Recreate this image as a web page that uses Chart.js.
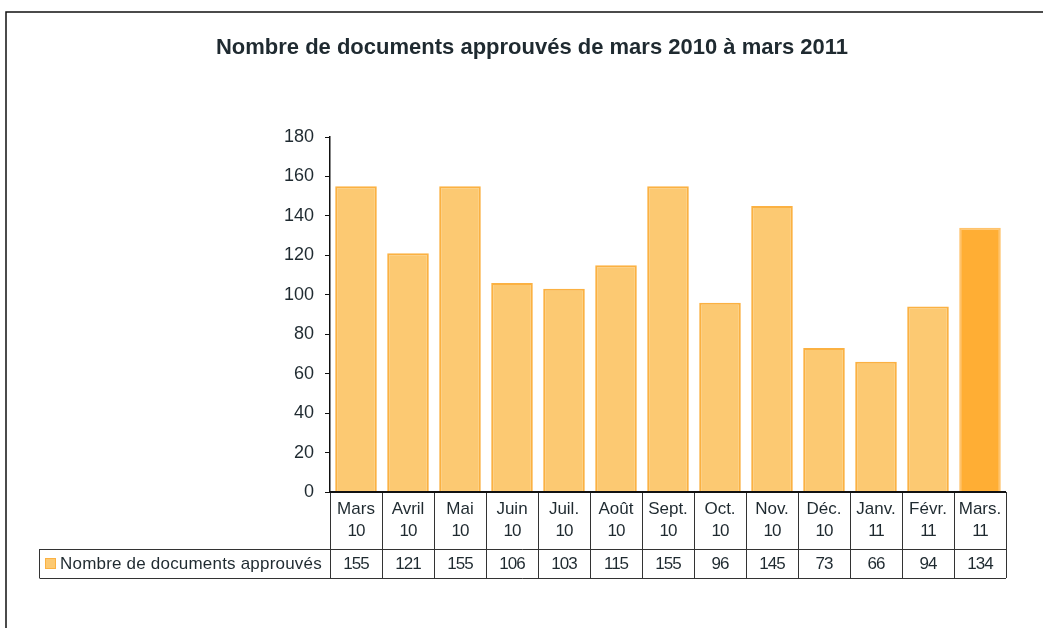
<!DOCTYPE html>
<html>
<head>
<meta charset="utf-8">
<script src="https://cdn.jsdelivr.net/npm/chart.js@4"></script>
<style>
  body { margin: 0; background: #fff; }
  canvas { display: block; }
</style>
</head>
<body>
<canvas id="docsChart" width="1043" height="628"></canvas>
<script>
// donnees
const titre = 'Nombre de documents approuvés de mars 2010 à mars 2011';
const serieNom = 'Nombre de documents approuvés';
const mois = ['Mars', 'Avril', 'Mai', 'Juin', 'Juil.', 'Août', 'Sept.', 'Oct.', 'Nov.', 'Déc.', 'Janv.', 'Févr.', 'Mars.'];
const annees = ['10', '10', '10', '10', '10', '10', '10', '10', '10', '10', '11', '11', '11'];
const valeurs = [155, 121, 155, 106, 103, 115, 155, 96, 145, 73, 66, 94, 134];
const yTicks = [0, 20, 40, 60, 80, 100, 120, 140, 160, 180];

const FONT = '"Liberation Sans", Arial, sans-serif';
const INK = '#1f2a30';

const fillColors = valeurs.map((v, i) => i === valeurs.length - 1 ? '#FFAE34' : '#FCC972');
const borderColors = valeurs.map((v, i) => i === valeurs.length - 1 ? '#FFC36C' : '#FBB142');

// cadre, titre et tableau de donnees sous l'axe
const tablePlugin = {
  id: 'dataTable',
  afterDraw(chart) {
    const ctx = chart.ctx;
    const area = chart.chartArea;
    const xs = chart.scales.x;
    const n = mois.length;
    const colW = (area.right - area.left) / n;
    const top = area.bottom;
    const mid = top + 57;
    const bot = mid + 29;
    const legLeft = 39;

    ctx.save();
    // cadre exterieur
    ctx.strokeStyle = '#111';
    ctx.lineWidth = 1.5;
    ctx.strokeRect(6, 12, 1200, 800);

    // titre
    ctx.fillStyle = INK;
    ctx.font = 'bold 22px ' + FONT;
    ctx.textAlign = 'center';
    ctx.textBaseline = 'middle';
    ctx.fillText(titre, 532, 48);

    // lignes du tableau
    ctx.strokeStyle = '#333';
    ctx.lineWidth = 1;
    ctx.beginPath();
    for (let i = 0; i <= n; i++) {
      const x = Math.round(area.left + i * colW) + 0.5;
      ctx.moveTo(x, top);
      ctx.lineTo(x, bot);
    }
    ctx.moveTo(legLeft + 0.5, mid + 0.5);
    ctx.lineTo(area.right, mid + 0.5);
    ctx.moveTo(legLeft + 0.5, bot + 0.5);
    ctx.lineTo(area.right, bot + 0.5);
    ctx.moveTo(legLeft + 0.5, mid);
    ctx.lineTo(legLeft + 0.5, bot);
    ctx.stroke();

    ctx.strokeStyle = '#111';
    ctx.lineWidth = 2;
    ctx.beginPath();
    ctx.moveTo(area.left, top);
    ctx.lineTo(area.right, top);
    ctx.stroke();

    // textes
    ctx.fillStyle = INK;
    ctx.textAlign = 'center';
    for (let i = 0; i < n; i++) {
      const cx = xs.getPixelForValue(i);
      ctx.font = '17px ' + FONT;
      ctx.letterSpacing = '0px';
      ctx.fillText(mois[i], cx, top + 17);
      ctx.letterSpacing = '-1px';
      ctx.fillText(annees[i], cx, top + 39);
      ctx.fillText(String(valeurs[i]), cx, mid + 15);
    }

    // legende
    ctx.fillStyle = '#FCC972';
    ctx.strokeStyle = '#FBB142';
    ctx.lineWidth = 1;
    ctx.fillRect(45.5, mid + 9.5, 10, 10);
    ctx.strokeRect(45.5, mid + 9.5, 10, 10);
    ctx.fillStyle = INK;
    ctx.textAlign = 'left';
    ctx.font = '17px ' + FONT;
    ctx.letterSpacing = '0.2px';
    ctx.fillText(serieNom, 60, mid + 15);
    ctx.restore();
  }
};

new Chart(document.getElementById('docsChart'), {
  type: 'bar',
  data: {
    labels: mois.map((m, i) => [m, annees[i]]),
    datasets: [{
      label: serieNom,
      data: valeurs,
      backgroundColor: fillColors,
      borderColor: borderColors,
      borderWidth: 2,
      barPercentage: 0.8,
      categoryPercentage: 1
    }]
  },
  options: {
    responsive: false,
    animation: false,
    layout: {
      padding: { left: 280, right: 37, top: 137, bottom: 136 }
    },
    plugins: {
      legend: { display: false },
      title: { display: false },
      tooltip: { enabled: false }
    },
    scales: {
      x: {
        display: false,
        offset: true
      },
      y: {
        min: 0,
        max: 180,
        afterFit(scale) { scale.width = 50; },
        afterBuildTicks(scale) { scale.ticks = yTicks.map(v => ({ value: v })); },
        border: { display: true, color: '#111', width: 1.5 },
        grid: { drawOnChartArea: false, tickLength: 5, color: '#111' },
        ticks: {
          padding: 11,
          color: INK,
          font: { family: FONT, size: 18 }
        }
      }
    }
  },
  plugins: [tablePlugin]
});
</script>
</body>
</html>
